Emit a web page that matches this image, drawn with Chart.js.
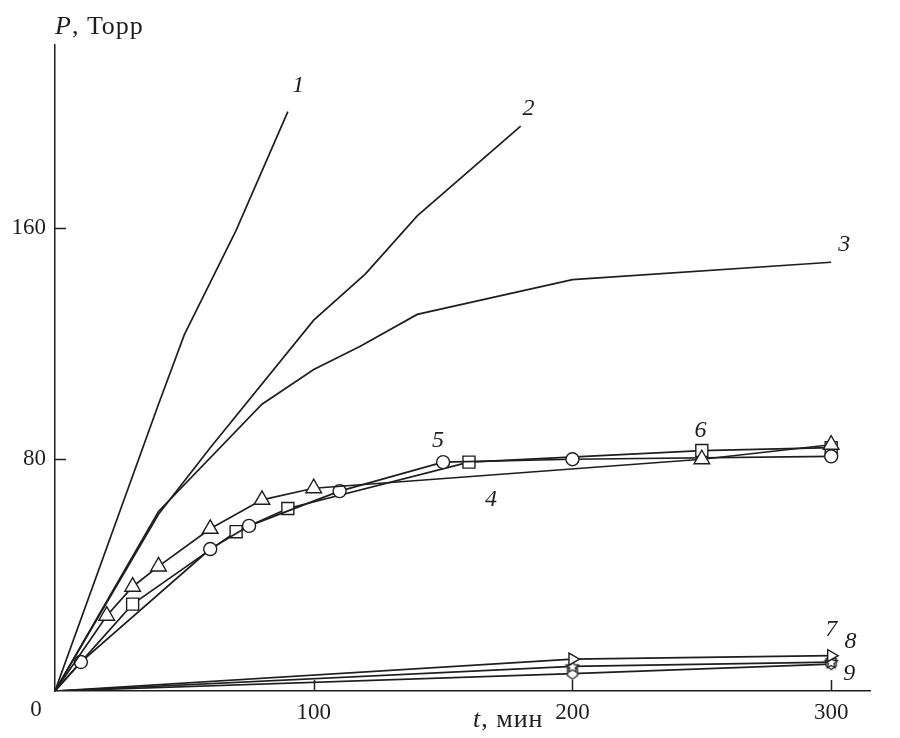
<!DOCTYPE html>
<html>
<head>
<meta charset="utf-8">
<script src="https://cdn.jsdelivr.net/npm/chart.js@4"></script>
<style>
  html, body { margin: 0; padding: 0; background: #fff; }
  #chart { display: block; }
</style>
</head>
<body>
<canvas id="chart" width="900" height="738"></canvas>
<script>
// curves 1-3, plain lines
const t1 = [0, 40, 50, 70, 90];
const p1 = [0, 99, 123, 159, 200];
const t2 = [0, 40, 60, 100, 120, 140, 180];
const p2 = [0, 61, 84, 128, 144, 164, 195];
const t3 = [0, 40, 80, 100, 118, 140, 200, 300];
const p3 = [0, 62, 99, 111, 119, 130, 142, 148];

// curves 4-6 (triangles, circles, squares)
const t4 = [0, 20, 30, 40, 60, 80, 100, 250, 300];
const p4 = [0, 26, 36, 43, 56, 66, 70, 80, 85];
const t5 = [0, 10, 60, 75, 110, 150, 200, 300];
const p5 = [0, 10, 49, 57, 69, 79, 80, 81];
const t6 = [0, 30, 70, 90, 160, 250, 300];
const p6 = [0, 30, 55, 63, 79, 83, 84];

// curves 7-9, near the bottom
const t7 = [0, 200, 300];
const p7 = [0, 11, 12.2];
const t8 = [0, 200, 300];
const p8 = [0, 8.5, 10];
const t9 = [0, 200, 300];
const p9 = [0, 6, 9.3];

const xTicks = [100, 200, 300];
const yTicks = [80, 160];

// curve numbers and where they sit (data units)
const curveNames = ['1', '2', '3', '4', '5', '6', '7', '8', '9'];
const nameT = [94, 183, 305, 168.5, 148, 249.5, 300, 307.5, 307];
const nameP = [209, 201, 154, 66, 86.5, 90, 21, 17, 6];

const INK = '#1e1e1e';
const SERIF = '"Liberation Serif", "DejaVu Serif", serif';

function pts(ts, ps) {
    return ts.map((t, i) => ({ x: t, y: ps[i] }));
}

function makeMarker(drawFn) {
    const c = document.createElement('canvas');
    c.width = 16; c.height = 16;
    const g = c.getContext('2d');
    g.fillStyle = '#fff';
    g.strokeStyle = INK;
    g.lineWidth = 1.3;
    g.lineJoin = 'miter';
    g.beginPath();
    drawFn(g);
    g.closePath();
    g.fill();
    g.stroke();
    return c;
}

const starMarker = makeMarker(g => {
    for (let i = 0; i < 10; i++) {
        const r = i % 2 === 0 ? 6.5 : 3;
        const a = -Math.PI / 2 + i * Math.PI / 5;
        const x = 8 + r * Math.cos(a), y = 8.5 + r * Math.sin(a);
        if (i === 0) g.moveTo(x, y); else g.lineTo(x, y);
    }
});

const shieldMarker = makeMarker(g => {
    g.moveTo(3, 2.5);
    g.lineTo(13, 2.5);
    g.lineTo(13, 10);
    g.lineTo(8, 13.5);
    g.lineTo(3, 10);
});

function firstHidden(n, r) {
    return Array.from({ length: n }, (_, i) => i === 0 ? 0 : r);
}

function plain(ts, ps) {
    return { data: pts(ts, ps), borderColor: INK, borderWidth: 1.7, pointRadius: 0, tension: 0 };
}

function marked(ts, ps, style, r, rot) {
    return {
        data: pts(ts, ps),
        borderColor: INK,
        borderWidth: 1.7,
        pointStyle: style,
        pointRadius: firstHidden(ts.length, r),
        pointRotation: rot || 0,
        pointBackgroundColor: '#fff',
        pointBorderColor: INK,
        pointBorderWidth: 1.4,
        tension: 0
    };
}

const decor = {
    id: 'decor',
    afterDraw(chart) {
        const ctx = chart.ctx;
        const xs = chart.scales.x, ys = chart.scales.y;
        ctx.save();
        ctx.strokeStyle = INK;
        ctx.lineWidth = 1.5;
        ctx.beginPath();
        yTicks.forEach(v => {
            const y = Math.round(ys.getPixelForValue(v)) + 0.5;
            ctx.moveTo(xs.left, y); ctx.lineTo(xs.left + 11, y);
        });
        xTicks.forEach(v => {
            const x = Math.round(xs.getPixelForValue(v)) + 0.5;
            ctx.moveTo(x, ys.bottom); ctx.lineTo(x, ys.bottom - 11);
        });
        ctx.stroke();

        ctx.fillStyle = INK;
        ctx.textBaseline = 'middle';
        ctx.textAlign = 'center';
        ctx.font = '23px ' + SERIF;
        ctx.fillText('0', 36, 710);

        // axis titles
        ctx.textAlign = 'left';
        ctx.letterSpacing = '1px';
        ctx.font = 'italic 26px ' + SERIF;
        ctx.fillText('P', 55, 27);
        let w = ctx.measureText('P').width;
        ctx.font = '26px ' + SERIF;
        ctx.fillText(', Торр', 55 + w, 27);

        ctx.font = 'italic 26px ' + SERIF;
        ctx.fillText('t', 473, 720);
        w = ctx.measureText('t').width;
        ctx.font = '26px ' + SERIF;
        ctx.fillText(', мин', 473 + w, 720);
        ctx.letterSpacing = '0px';

        // curve numbers
        ctx.textAlign = 'center';
        ctx.font = 'italic 24px ' + SERIF;
        curveNames.forEach((s, i) => {
            ctx.fillText(s, xs.getPixelForValue(nameT[i]), ys.getPixelForValue(nameP[i]));
        });
        ctx.restore();
    }
};

new Chart(document.getElementById('chart').getContext('2d'), {
    type: 'line',
    data: {
        datasets: [
            plain(t1, p1),
            plain(t2, p2),
            plain(t3, p3),
            marked(t4, p4, 'triangle', 9),
            marked(t5, p5, 'circle', 6.5),
            marked(t6, p6, 'rect', 8.5),
            marked(t7, p7, 'triangle', 7, 90),
            marked(t8, p8, starMarker, 7),
            marked(t9, p9, shieldMarker, 7)
        ]
    },
    options: {
        responsive: false,
        animation: false,
        layout: { padding: { top: 45, right: 30, left: 0, bottom: 0 } },
        plugins: { legend: { display: false }, tooltip: { enabled: false } },
        scales: {
            x: {
                type: 'linear',
                min: 0,
                max: 315,
                afterBuildTicks: s => { s.ticks = xTicks.map(v => ({ value: v })); },
                afterFit: s => { s.height = 47; },
                grid: { display: false, drawTicks: false },
                border: { display: true, color: INK, width: 1.5 },
                ticks: { color: INK, padding: 8, maxRotation: 0, font: { family: SERIF, size: 23 } }
            },
            y: {
                type: 'linear',
                min: 0,
                max: 223,
                afterBuildTicks: s => { s.ticks = yTicks.map(v => ({ value: v })); },
                afterFit: s => { s.width = 55; },
                grid: { display: false, drawTicks: false },
                border: { display: true, color: INK, width: 1.5 },
                ticks: { color: INK, padding: 9, font: { family: SERIF, size: 23 } }
            }
        }
    },
    plugins: [decor]
});
</script>
</body>
</html>
